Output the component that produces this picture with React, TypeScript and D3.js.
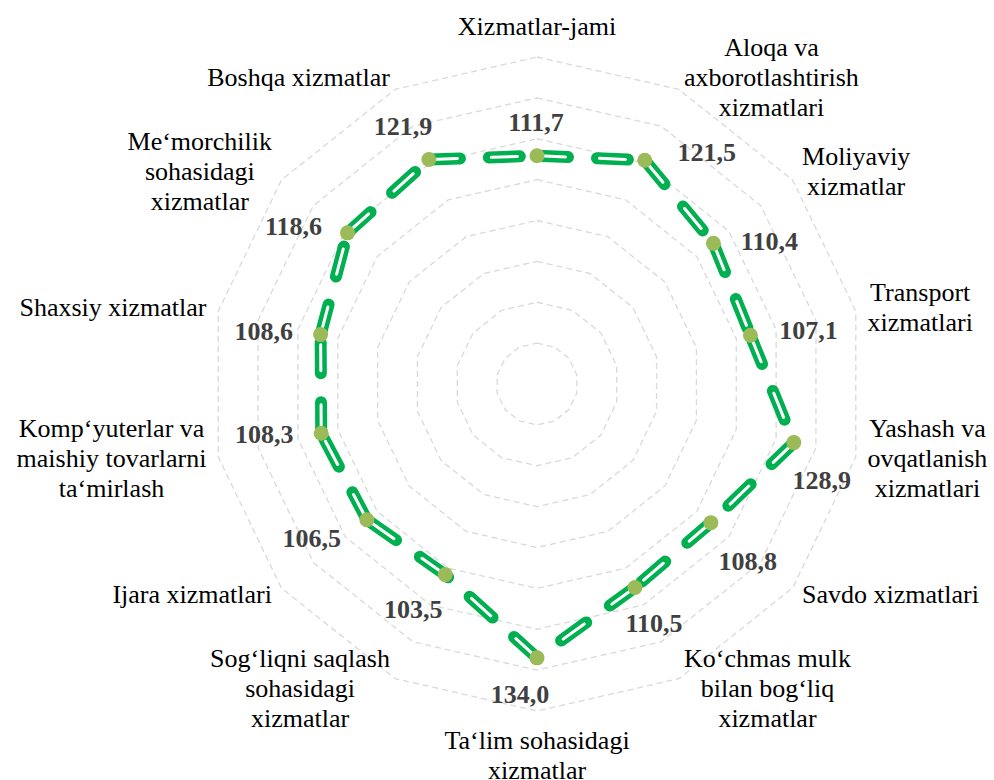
import React from "react";
import * as d3 from "d3";

// kategoriyalar (satrlarga bo'lingan)
const categories: string[][] = [
  ["Xizmatlar-jami"],
  ["Aloqa va", "axborotlashtirish", "xizmatlari"],
  ["Moliyaviy", "xizmatlar"],
  ["Transport", "xizmatlari"],
  ["Yashash va", "ovqatlanish", "xizmatlari"],
  ["Savdo xizmatlari"],
  ["Ko‘chmas mulk", "bilan bog‘liq", "xizmatlar"],
  ["Ta‘lim sohasidagi", "xizmatlar"],
  ["Sog‘liqni saqlash", "sohasidagi", "xizmatlar"],
  ["Ijara xizmatlari"],
  ["Komp‘yuterlar va", "maishiy tovarlarni", "ta‘mirlash"],
  ["Shaxsiy xizmatlar"],
  ["Me‘morchilik", "sohasidagi", "xizmatlar"],
  ["Boshqa xizmatlar"],
];

const values = [
  111.7, 121.5, 110.4, 107.1, 128.9, 108.8, 110.5, 134.0, 103.5, 106.5, 108.3,
  108.6, 118.6, 121.9,
];

const gridLevels = [20, 40, 60, 80, 100, 120, 140, 160];

// value label nudges relative to each point (px)
const labelOffsets = [
  [-1, -34], [62, -8], [56, -2], [58, -5], [28, 38], [37, 39], [19, 36],
  [-17, 36], [-32, 35], [-55, 18], [-57, 1], [-57, -3], [-54, -7], [-26, -33],
];

const width = 994;
const height = 780;
const cx = 537;
const cy = 384;
const outerR = 327;
const fontSize = 26;
const lineH = 30;
const font = "Liberation Serif, Times New Roman, DejaVu Serif, serif";

let ctx: CanvasRenderingContext2D | null = null;
function textWidth(s: string) {
  if (!ctx) ctx = document.createElement("canvas").getContext("2d");
  if (!ctx) return s.length * fontSize * 0.45;
  ctx.font = `${fontSize}px "Liberation Serif", serif`;
  return ctx.measureText(s).width;
}

const fmt = (v: number) => d3.format(".1f")(v).replace(".", ",");

export default function App() {
  const n = values.length;
  const r = d3.scaleLinear().domain([0, 160]).range([0, outerR]);
  const angle = d3.scaleLinear().domain([0, n]).range([0, 2 * Math.PI]);
  const idx = d3.range(n);

  const gridLine = (level: number) =>
    d3
      .lineRadial<number>()
      .angle((i) => angle(i))
      .radius(() => r(level))
      .curve(d3.curveLinearClosed)(idx) || "";

  const pts = values.map((v, i) => d3.pointRadial(angle(i), r(v)));
  const segs = idx.map((i) => {
    const a = pts[i];
    const b = pts[(i + 1) % n];
    return `M${a[0]},${a[1]}L${b[0]},${b[1]}`;
  });

  return (
    <div>
      <style>{`body{margin:0;} svg text{font-family:"Liberation Serif","Times New Roman",serif;}`}</style>
      <svg width={width} height={height} style={{ display: "block", background: "#fff" }}>
        <g transform={`translate(${cx},${cy})`}>
          {gridLevels.map((lv) => (
            <path
              key={lv}
              d={gridLine(lv)}
              fill="none"
              stroke="#d9d9d9"
              strokeWidth={1.3}
              strokeDasharray="6,4"
            />
          ))}
          {segs.map((d, i) => (
            <path
              key={"g" + i}
              d={d}
              fill="none"
              stroke="#00b050"
              strokeWidth={12}
              strokeLinecap="round"
              strokeDasharray="31,29"
            />
          ))}
          {segs.map((d, i) => (
            <path
              key={"w" + i}
              d={d}
              fill="none"
              stroke="#fff"
              strokeWidth={3}
              strokeLinecap="round"
              strokeDasharray="26,34"
              strokeDashoffset={-2.5}
            />
          ))}
          {pts.map((p, i) => (
            <circle key={"m" + i} cx={p[0]} cy={p[1]} r={7.5} fill="#9bbb59" />
          ))}
          {pts.map((p, i) => (
            <text
              key={"v" + i}
              x={p[0] + labelOffsets[i][0]}
              y={p[1] + labelOffsets[i][1]}
              dy="0.34em"
              textAnchor="middle"
              style={{ fontFamily: font }}
              fontSize={fontSize}
              fontWeight="bold"
              fill="#404040"
            >
              {fmt(values[i])}
            </text>
          ))}
          {categories.map((lines, i) => {
            const a = angle(i);
            const s = Math.sin(a);
            const c = Math.cos(a);
            const vertical = Math.abs(s) < 0.01;
            const [ax, ay] = d3.pointRadial(a, outerR + (vertical ? 15 : 12));
            const blockW = d3.max(lines, textWidth) || 0;
            const blockH = lines.length * lineH;
            let bx = ax;
            let by = ay;
            if (vertical) {
              by = ay - c * (blockH / 2);
            } else {
              bx = s > 0 ? ax + blockW / 2 : ax - blockW / 2;
            }
            return (
              <text
                key={"c" + i}
                textAnchor="middle"
                style={{ fontFamily: font }}
                fontSize={fontSize}
                fill="#000"
              >
                {lines.map((ln, j) => (
                  <tspan
                    key={j}
                    x={bx}
                    y={by + (j - (lines.length - 1) / 2) * lineH}
                    dy="0.3em"
                  >
                    {ln}
                  </tspan>
                ))}
              </text>
            );
          })}
        </g>
      </svg>
    </div>
  );
}
